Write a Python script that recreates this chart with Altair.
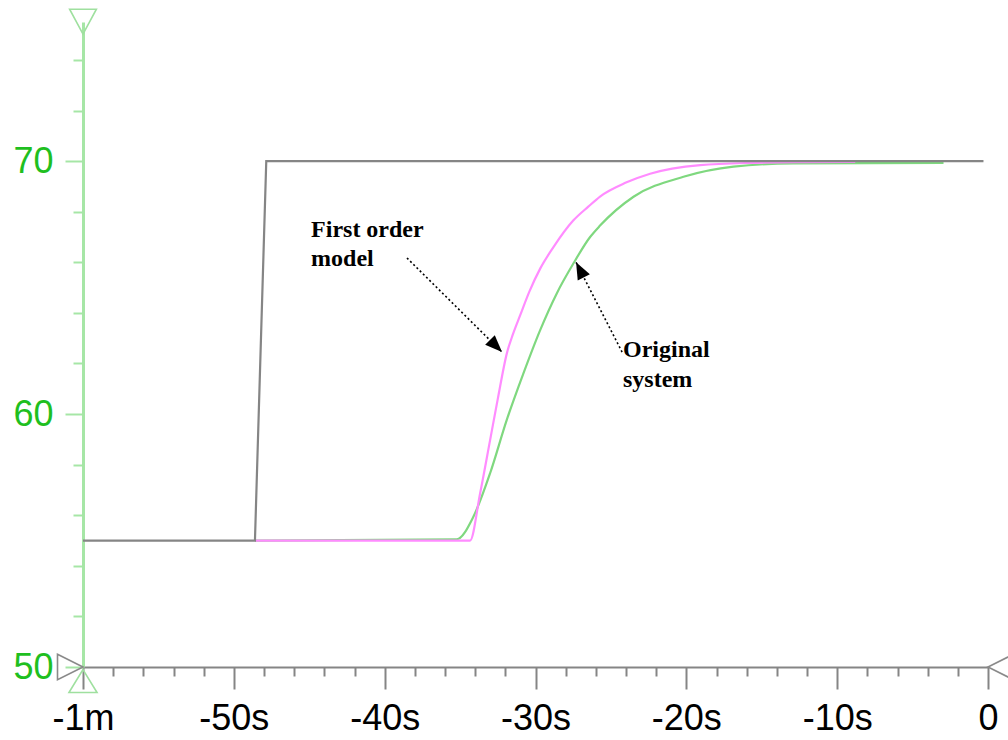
import altair as alt
import pandas as pd

# ---------------- data ----------------
# step input (grey)
step_t = [-60, -48.6, -47.85, -0.3]
step_v = [55, 55, 70, 70]

# first order model (pink)
model_t = [-48.6, -34.34, -33.67, -33.01, -32.5, -31.9, -31.5, -31.02, -30.4, -29.69,
           -28.81, -27.5, -26.5, -25.72, -24.0, -22.4, -19.08, -15.77, -12.0, -8.8]
model_v = [55, 55, 56.87, 58.97, 60.6, 62.4, 63.15, 63.9, 64.85, 65.75,
           66.6, 67.65, 68.2, 68.6, 69.15, 69.5, 69.84, 69.93, 69.96, 69.97]

# original system (green)
orig_t = [-48.6, -35.22, -34.12, -33.01, -31.91, -30.80, -29.69, -28.59, -27.48,
          -26.38, -25.72, -23.5, -20.19, -16.87, -12.89, -2.95]
orig_v = [55, 55.05, 55.94, 57.66, 59.76, 61.61, 63.32, 64.77, 65.96,
          67.0, 67.45, 68.59, 69.38, 69.78, 69.91, 69.93]

# axis ticks / labels
x_tick_values = [-60, -50, -40, -30, -20, -10, 0]
x_tick_labels = ["-1m", "-50s", "-40s", "-30s", "-20s", "-10s", "0"]
x_minor_values = list(range(-60, 1, 2))
y_tick_values = [50, 60, 70]
y_tick_labels = ["50", "60", "70"]
y_minor_values = list(range(50, 75, 2))

# annotations
note_text = ["First order", "model", "Original", "system"]
note_t = [-44.88, -44.88, -24.20, -24.20]
note_v = [67.0, 65.85, 62.25, 61.07]

arrow_id = ["a", "a", "b", "b"]
arrow_t = [-38.52, -32.22, -24.26, -27.31]
arrow_v = [66.17, 62.45, 62.45, 66.0]
head_t = [-32.22, -27.31]
head_v = [62.45, 66.0]
head_angle = [135, 333]

# axis end markers
mark_t = [-60, -60, -60, 0]
mark_v = [75.5, 50, 50, 50]
mark_shape = [
    "M -1.05 -1 L 1.05 -1 L 0 0.95 Z",   # top, pointing down
    "M -2 -1 L 0 0 L -2 1 Z",            # left, pointing right
    "M 0 0.2 L 1.1 2 L -1.1 2 Z",        # below origin, pointing up
    "M 2 -1 L 0 0 L 2 1 Z",              # right end, pointing left
]
mark_color = ["#9fe09f", "#8a8a8a", "#9fe09f", "#8a8a8a"]

# ---------------- chart ----------------
GREY = "#858585"
PINK = "#ff8cff"
GREEN = "#7fd87f"
AXIS_GREEN = "#a6e6a6"
LABEL_GREEN = "#1fbf1f"

def label_expr(values, labels):
    expr = "''"
    for v, l in reversed(list(zip(values, labels))):
        expr = f"datum.value == {v} ? '{l}' : ({expr})"
    return expr

x_scale = alt.Scale(domain=[-60, 0], nice=False, zero=False)
y_scale = alt.Scale(domain=[50, 75.5], nice=False, zero=False)

x_axis = alt.Axis(
    values=x_minor_values,
    labelExpr=label_expr(x_tick_values, x_tick_labels),
    tickSize={"condition": {"test": "datum.value % 10 === 0", "value": 22}, "value": 9},
    tickColor=GREY, tickWidth=2, domainColor=GREY, domainWidth=2,
    labelFont="Liberation Sans", labelFontSize=36, labelColor="black",
    labelPadding=12, labelOverlap=False, labelFlush=False, grid=False, title=None,
)
y_axis = alt.Axis(
    values=y_minor_values,
    labelExpr=label_expr(y_tick_values, y_tick_labels),
    tickSize={"condition": {"test": "datum.value % 10 === 0", "value": 18}, "value": 10},
    tickColor=AXIS_GREEN, tickWidth=2, domainColor=AXIS_GREEN, domainWidth=3,
    labelFont="Liberation Sans", labelFontSize=36, labelColor=LABEL_GREEN,
    labelPadding=12, labelOverlap=False, labelFlush=False, grid=False, title=None,
)

X = alt.X("t:Q", scale=x_scale, axis=x_axis)
Y = alt.Y("v:Q", scale=y_scale, axis=y_axis)

step_df = pd.DataFrame({"t": step_t, "v": step_v})
model_df = pd.DataFrame({"t": model_t, "v": model_v})
orig_df = pd.DataFrame({"t": orig_t, "v": orig_v})

orig_line = alt.Chart(orig_df).mark_line(color=GREEN, strokeWidth=2.2, interpolate="monotone").encode(x=X, y=Y)
model_line = alt.Chart(model_df).mark_line(color=PINK, strokeWidth=2.2, interpolate="monotone").encode(x=X, y=Y)
step_line = alt.Chart(step_df).mark_line(color=GREY, strokeWidth=2.2).encode(x=X, y=Y)

arrow_df = pd.DataFrame({"id": arrow_id, "t": arrow_t, "v": arrow_v})
arrows = alt.Chart(arrow_df).mark_line(color="black", strokeWidth=1.6, strokeDash=[2, 2.5]).encode(
    x=X, y=Y, detail="id:N")

head_df = pd.DataFrame({"t": head_t, "v": head_v, "angle": head_angle})
heads = alt.Chart(head_df).mark_point(
    shape="M 0 0 L 0.8 2 L -0.8 2 Z", size=290, filled=True, color="black", opacity=1
).encode(x=X, y=Y, angle=alt.Angle("angle:Q", scale=None))

note_df = pd.DataFrame({"text": note_text, "t": note_t, "v": note_v})
notes = alt.Chart(note_df).mark_text(
    font="Liberation Serif", fontWeight="bold", fontSize=24, align="left",
    baseline="alphabetic", color="black"
).encode(x=X, y=Y, text="text:N")

mark_df = pd.DataFrame({"t": mark_t, "v": mark_v, "shape": mark_shape, "color": mark_color})
markers = alt.Chart(mark_df).mark_point(size=650, filled=False, strokeWidth=1.6, opacity=1).encode(
    x=X, y=Y,
    shape=alt.Shape("shape:N", scale=None),
    stroke=alt.Stroke("color:N", scale=None),
)

chart = alt.layer(orig_line, model_line, step_line, arrows, heads, notes, markers).properties(
    width=905, height=645,
    padding={"left": 83, "top": 22, "right": 20, "bottom": 73},
    autosize=alt.AutoSizeParams(type="none"),
    background="white",
).configure_view(strokeWidth=0)

chart.save("out.html", embed_options={"renderer": "svg", "actions": False})
